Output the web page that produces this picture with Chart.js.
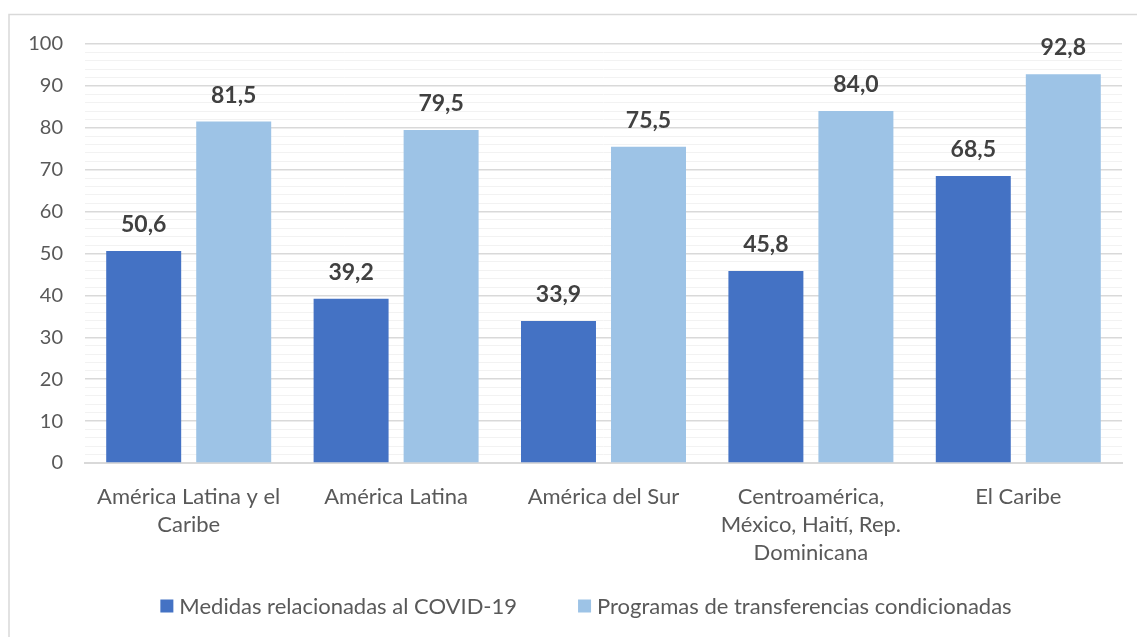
<!DOCTYPE html>
<html>
<head>
<meta charset="utf-8">
<script src="https://cdn.jsdelivr.net/npm/chart.js@4.4.1/dist/chart.umd.min.js"></script>
<style>
html,body{margin:0;padding:0;background:#fff;}
#wrap{position:relative;width:1137px;height:637px;}
</style>
</head>
<body>
<div id="wrap"><canvas id="c" width="1137" height="637"></canvas></div>
<script>
const categories = [
  ["América Latina y el", "Caribe"],
  ["América Latina"],
  ["América del Sur"],
  ["Centroamérica,", "México, Haití, Rep.", "Dominicana"],
  ["El Caribe"]
];
const seriesNames = ["Medidas relacionadas al COVID-19", "Programas de transferencias condicionadas"];
const covidValues = [50.6, 39.2, 33.9, 45.8, 68.5];
const transferValues = [81.5, 79.5, 75.5, 84.0, 92.8];
const yTicks = [0, 10, 20, 30, 40, 50, 60, 70, 80, 90, 100];
const seriesColors = ['#4472C4', '#9DC3E6'];

const FONT = "Lato, 'Open Sans', sans-serif";

const frame = {
  id: 'frame',
  beforeDraw(chart) {
    const ctx = chart.ctx;
    ctx.save();
    ctx.fillStyle = '#fff';
    ctx.fillRect(0, 0, chart.width, chart.height);
    ctx.strokeStyle = '#D9D9D9';
    ctx.lineWidth = 1.5;
    ctx.strokeRect(9, 14.5, 1200, 700);
    ctx.restore();
  }
};

const valueLabels = {
  id: 'valueLabels',
  afterDatasetsDraw(chart) {
    const ctx = chart.ctx;
    ctx.save();
    ctx.font = "bold 23px " + FONT;
    ctx.fillStyle = '#404040';
    ctx.textAlign = 'center';
    ctx.textBaseline = 'alphabetic';
    chart.data.datasets.forEach((ds, i) => {
      const meta = chart.getDatasetMeta(i);
      meta.data.forEach((bar, j) => {
        const v = ds.data[j];
        ctx.fillText(v.toFixed(1).replace('.', ','), bar.x, bar.y - 19);
      });
    });
    ctx.restore();
  }
};

const customLegend = {
  id: 'customLegend',
  afterDraw(chart) {
    const ctx = chart.ctx;
    ctx.save();
    ctx.font = "22px " + FONT;
    ctx.textBaseline = 'middle';
    ctx.textAlign = 'left';
    const box = 13, gapText = 6, gapItem = 61, cx = 586, cy = 606;
    const widths = seriesNames.map(n => ctx.measureText(n).width);
    const total = widths.reduce((a, w) => a + box + gapText + w, 0) + gapItem * (seriesNames.length - 1);
    let x = cx - total / 2;
    seriesNames.forEach((n, i) => {
      ctx.fillStyle = seriesColors[i];
      ctx.fillRect(x, cy - box / 2, box, box);
      ctx.fillStyle = '#595959';
      ctx.fillText(n, x + box + gapText, cy + 1);
      x += box + gapText + widths[i] + gapItem;
    });
    ctx.restore();
  }
};

new Chart(document.getElementById('c'), {
  type: 'bar',
  data: {
    labels: categories,
    datasets: [
      { label: seriesNames[0], data: covidValues, backgroundColor: seriesColors[0], barPercentage: 0.833, categoryPercentage: 0.868 },
      { label: seriesNames[1], data: transferValues, backgroundColor: seriesColors[1], barPercentage: 0.833, categoryPercentage: 0.868 }
    ]
  },
  options: {
    responsive: false,
    animation: false,
    events: [],
    layout: { padding: { top: 44, right: 15, bottom: 50, left: 0 } },
    plugins: {
      tooltip: { enabled: false },
      legend: { display: false }
    },
    scales: {
      x: {
        grid: { display: false },
        border: { color: '#D9D9D9', width: 2 },
        ticks: {
          font: { family: FONT, size: 22, lineHeight: 1.273 },
          color: '#595959',
          padding: 12,
          maxRotation: 0,
          autoSkip: false
        },
        afterFit(scale) { scale.height = 124; }
      },
      y: {
        min: 0,
        max: 100,
        border: { display: false },
        grid: {
          drawTicks: false,
          color(ctx) { return (ctx.tick && ctx.tick.value % 10 === 0) ? '#D9D9D9' : '#F2F2F2'; },
          lineWidth(ctx) { return (ctx.tick && ctx.tick.value % 10 === 0) ? 1.5 : 1; }
        },
        ticks: {
          stepSize: 2,
          autoSkip: false,
          font: { family: FONT, size: 20 },
          color: '#595959',
          padding: 22,
          callback(v) { return yTicks.includes(v) ? String(v) : ''; }
        },
        afterFit(scale) { scale.width = 85; }
      }
    }
  },
  plugins: [frame, valueLabels, customLegend]
});
</script>
</body>
</html>
